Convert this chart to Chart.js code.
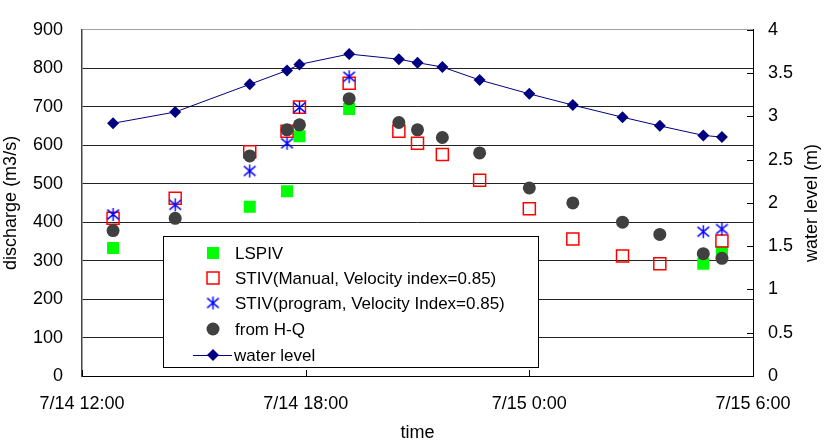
<!DOCTYPE html>
<html>
<head>
<meta charset="utf-8">
<script src="https://cdn.jsdelivr.net/npm/chart.js@4.4.0/dist/chart.umd.min.js"></script>
<style>
  html, body { margin: 0; padding: 0; background: #fff; }
  #wrap { width: 824px; height: 444px; }
</style>
</head>
<body>
<div id="wrap"><canvas id="chart" width="824" height="444"></canvas></div>
<script>
// measurement times
const times = ['7/14 12:50', '7/14 14:30', '7/14 16:30', '7/14 17:30', '7/14 17:50', '7/14 19:10',
               '7/14 20:30', '7/14 21:00', '7/14 21:40', '7/14 22:40', '7/15 0:00', '7/15 1:10',
               '7/15 2:30', '7/15 3:30', '7/15 4:40', '7/15 5:10'];

// discharge (m3/s)
const lspiv      = [333, null, 440, 480, 623, 694, null, null, null, null, null, null, null, null, 292, 322];
const stivManual = [410, 462, 583, 636, 699, 761, 636, 605, 576, 509, 435, 356, 312, 292, null, 351];
const stivProg   = [420, 445, 533, 605, 698, 778, null, null, null, null, null, null, null, null, 375, 382];
const fromHQ     = [378, 410, 572, 640, 653, 721, 659, 640, 620, 580, 489, 450, 400, 368, 318, 306];

// water level (m)
const waterLevel = [2.92, 3.05, 3.37, 3.53, 3.60, 3.72, 3.66, 3.62, 3.57, 3.42, 3.26, 3.13, 2.99, 2.89, 2.78, 2.76];

const xTickLabels = ['7/14 12:00', '7/14 18:00', '7/15 0:00', '7/15 6:00'];

const FONT = "'Liberation Sans', Arial, sans-serif";

// hours since 7/14 0:00
function toHours(s) {
    const [md, hm] = s.split(' ');
    const day = parseInt(md.split('/')[1], 10);
    const [h, m] = hm.split(':').map(Number);
    return (day - 14) * 24 + h + m / 60;
}

function points(values) {
    return times.map((t, i) => ({ x: toHours(t), y: values[i] })).filter(p => p.y !== null);
}

// asterisk marker like the spreadsheet one
function makeStar(size, color) {
    const c = document.createElement('canvas');
    c.width = size; c.height = size;
    const g = c.getContext('2d');
    g.strokeStyle = color;
    g.lineWidth = 1.4;
    const m = size / 2, r = size / 2 - 1;
    g.beginPath();
    g.moveTo(m, m - r); g.lineTo(m, m + r);
    g.moveTo(m - r * 0.9, m - r * 0.75); g.lineTo(m + r * 0.9, m + r * 0.75);
    g.moveTo(m - r * 0.9, m + r * 0.75); g.lineTo(m + r * 0.9, m - r * 0.75);
    g.stroke();
    return c;
}
const star = makeStar(15, '#0000FF');

// inner ticks, right axis title and legend box
const extras = {
    id: 'extras',
    afterDraw(chart) {
        const { ctx, chartArea: a, scales } = chart;
        ctx.save();
        ctx.strokeStyle = '#000';
        ctx.lineWidth = 1;
        ctx.beginPath();
        scales.y2.ticks.forEach(t => {
            const y = Math.round(scales.y2.getPixelForValue(t.value)) + 0.5;
            ctx.moveTo(a.right, y); ctx.lineTo(a.right - 6, y);
        });
        scales.x.ticks.forEach(t => {
            const x = Math.round(scales.x.getPixelForValue(t.value)) + 0.5;
            ctx.moveTo(x, a.bottom); ctx.lineTo(x, a.bottom - 6);
        });
        ctx.stroke();

        // right axis title
        ctx.save();
        ctx.translate(812, (a.top + a.bottom) / 2);
        ctx.rotate(-Math.PI / 2);
        ctx.fillStyle = '#000';
        ctx.font = '18px ' + FONT;
        ctx.textAlign = 'center';
        ctx.textBaseline = 'middle';
        ctx.fillText('water level (m)', 0, 0);
        ctx.restore();

        // legend
        const box = { left: 163.5, top: 236.5, w: 375, h: 131 };
        ctx.fillStyle = '#fff';
        ctx.fillRect(box.left, box.top, box.w, box.h);
        ctx.strokeStyle = '#000';
        ctx.strokeRect(box.left, box.top, box.w, box.h);

        const mx = 213, tx = 235;
        const rows = [253, 278, 303, 329, 355];
        ctx.font = '17px ' + FONT;
        ctx.textBaseline = 'middle';
        ctx.textAlign = 'left';
        const ds = chart.data.datasets;

        // LSPIV
        ctx.fillStyle = '#00FF00';
        ctx.fillRect(mx - 6, rows[0] - 6, 12, 12);
        // STIV manual
        ctx.strokeStyle = '#FF0000';
        ctx.lineWidth = 1.5;
        ctx.strokeRect(mx - 6, rows[1] - 6, 12, 12);
        // STIV program
        ctx.drawImage(star, mx - 7.5, rows[2] - 7.5);
        // H-Q
        ctx.fillStyle = '#404040';
        ctx.beginPath();
        ctx.arc(mx, rows[3], 6.5, 0, Math.PI * 2);
        ctx.fill();
        // water level
        ctx.strokeStyle = '#000080';
        ctx.lineWidth = 1;
        ctx.beginPath();
        ctx.moveTo(193, rows[4] + 0.5); ctx.lineTo(232, rows[4] + 0.5);
        ctx.stroke();
        ctx.fillStyle = '#000080';
        ctx.beginPath();
        ctx.moveTo(mx, rows[4] - 6); ctx.lineTo(mx + 6, rows[4]);
        ctx.lineTo(mx, rows[4] + 6); ctx.lineTo(mx - 6, rows[4]);
        ctx.closePath();
        ctx.fill();

        ctx.fillStyle = '#000';
        ds.forEach((d, i) => ctx.fillText(d.label, i === 4 ? 234 : tx, rows[i] + 1));
        ctx.restore();
    }
};

new Chart(document.getElementById('chart'), {
    type: 'scatter',
    data: {
        datasets: [
            {
                label: 'LSPIV', data: points(lspiv), yAxisID: 'y', order: 5,
                pointStyle: 'rect', pointRadius: 8.5, pointHoverRadius: 8.5,
                backgroundColor: '#00FF00', borderColor: '#00FF00', borderWidth: 0
            },
            {
                label: 'STIV(Manual, Velocity index=0.85)', data: points(stivManual), yAxisID: 'y', order: 4,
                pointStyle: 'rect', pointRadius: 8.5, pointHoverRadius: 8.5,
                backgroundColor: 'rgba(0,0,0,0)', borderColor: '#FF0000', borderWidth: 1.5
            },
            {
                label: 'STIV(program, Velocity Index=0.85)', data: points(stivProg), yAxisID: 'y', order: 3,
                pointStyle: star, pointRadius: 7,
                backgroundColor: '#0000FF', borderColor: '#0000FF'
            },
            {
                label: 'from H-Q', data: points(fromHQ), yAxisID: 'y', order: 2,
                pointStyle: 'circle', pointRadius: 6.5, pointHoverRadius: 6.5,
                backgroundColor: '#404040', borderColor: '#404040', borderWidth: 0
            },
            {
                label: 'water level', data: points(waterLevel), yAxisID: 'y2', order: 1,
                showLine: true, borderColor: '#000080', borderWidth: 1,
                pointStyle: 'rectRot', pointRadius: 6, pointHoverRadius: 6,
                backgroundColor: '#000080', pointBorderWidth: 0
            }
        ]
    },
    options: {
        responsive: false,
        animation: false,
        devicePixelRatio: 1,
        layout: { padding: { top: 15, left: 0, right: 0, bottom: 0 } },
        plugins: {
            legend: { display: false },
            tooltip: { enabled: false }
        },
        scales: {
            x: {
                type: 'linear', min: 12, max: 30,
                afterFit: s => { s.height = 68; },
                grid: { display: false, drawTicks: false },
                border: { display: true, color: '#000', width: 1 },
                ticks: {
                    stepSize: 6, padding: 17, color: '#000', maxRotation: 0,
                    font: { family: FONT, size: 18 },
                    callback: v => xTickLabels[Math.round((v - 12) / 6)]
                },
                title: {
                    display: true, text: 'time', color: '#000',
                    font: { family: FONT, size: 18 }, padding: { top: 0, bottom: 0 }
                }
            },
            y: {
                position: 'left', min: 0, max: 900,
                afterFit: s => { s.width = 82; },
                grid: {
                    drawTicks: false, lineWidth: 1,
                    color: ctx => ctx.tick && ctx.tick.value === 900 ? '#a0a0a0' : '#222'
                },
                border: { display: true, color: '#444', width: 1.5 },
                ticks: {
                    stepSize: 100, padding: 19, color: '#000',
                    font: { family: FONT, size: 18 },
                    callback: v => String(v)
                },
                title: {
                    display: true, text: 'discharge (m3/s)', color: '#000',
                    font: { family: FONT, size: 18 }, padding: { top: 0, bottom: 3 }
                }
            },
            y2: {
                position: 'right', min: 0, max: 4,
                afterFit: s => { s.width = 71; },
                grid: { display: false, drawTicks: false },
                border: { display: true, color: '#000', width: 1 },
                ticks: {
                    stepSize: 0.5, padding: 15, color: '#000',
                    font: { family: FONT, size: 18 },
                    callback: v => String(v)
                }
            }
        }
    },
    plugins: [extras]
});
</script>
</body>
</html>
